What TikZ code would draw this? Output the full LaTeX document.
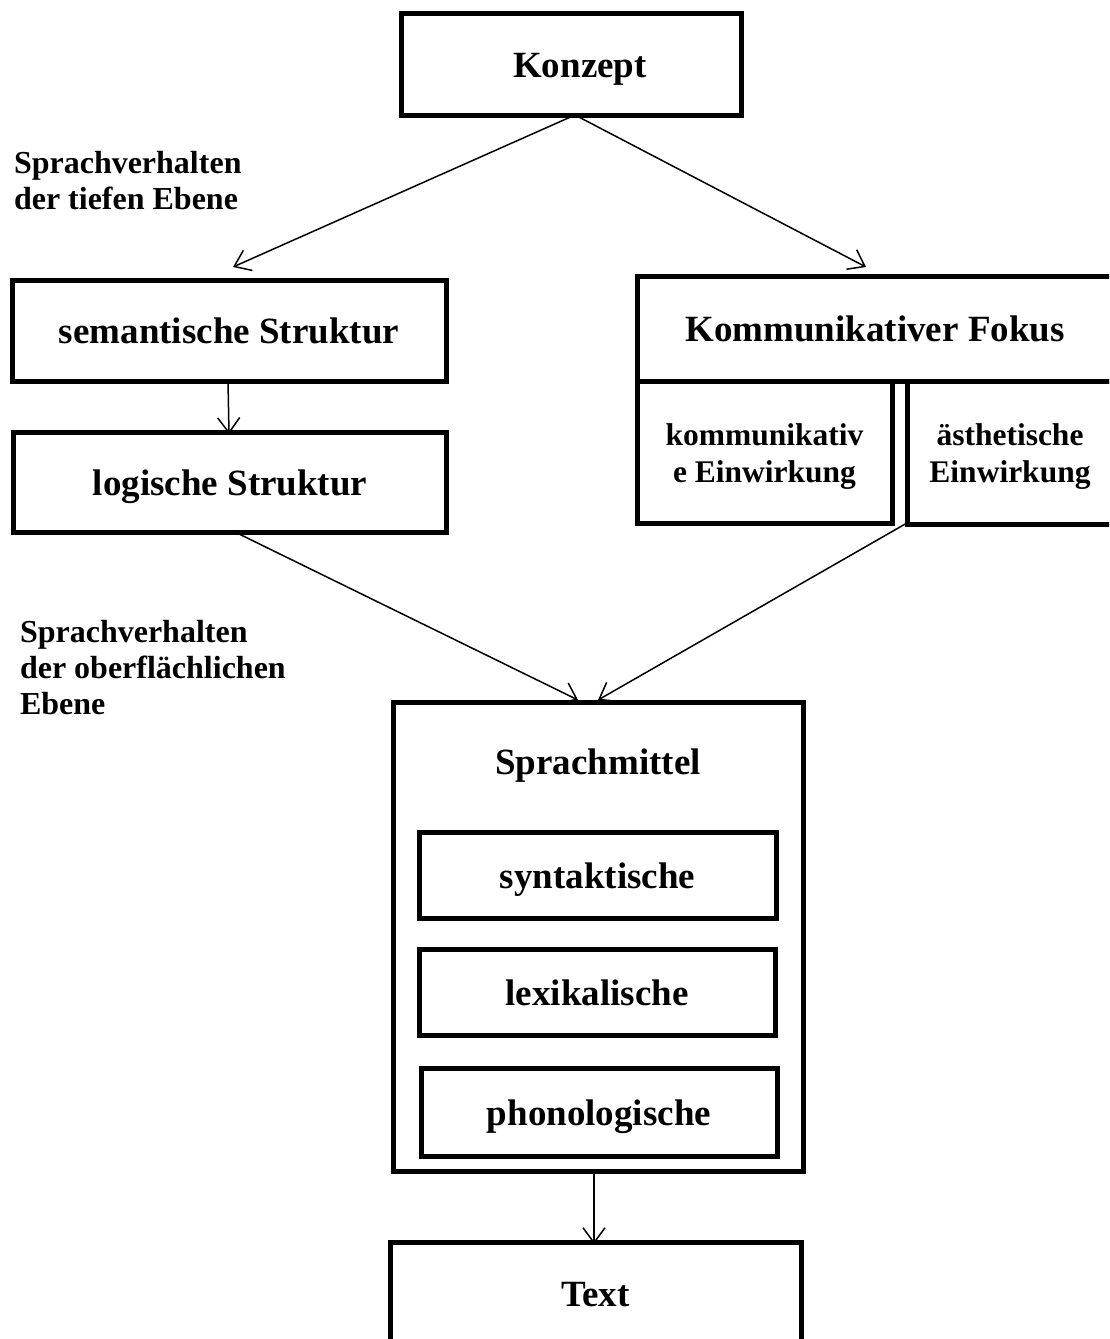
\documentclass[tikz,border=0pt]{standalone}
\usepackage{fontspec}
\setmainfont{Liberation Serif}
\usetikzlibrary{arrows.meta}
\newcommand{\twolines}[2]{\raisebox{7pt}[0pt][0pt]{\begin{tabular}[t]{@{}c@{}}#1\\#2\end{tabular}}}
\begin{document}
\begin{tikzpicture}[x=1pt,y=-1pt,
  frame/.style={draw, line width=5pt, rectangle, inner sep=0pt, outer sep=0pt},
  box/.style={frame, font=\fontsize{37}{42}\selectfont\bfseries,
    text height=30pt, text depth=3.6pt},
  smallbox/.style={frame, font=\fontsize{31.5}{37}\selectfont\bfseries},
  lbl/.style={inner sep=0pt, outer sep=0pt, anchor=west, align=left,
    font=\fontsize{32}{36}\selectfont\bfseries},
  conn/.style={line width=1.5pt, -{Straight Barb[length=15pt,width=22pt,line width=1.5pt]}}
]
\useasboundingbox (0,0) rectangle (1109,1339);
\clip (0,0) rectangle (1109,1339);
\fill[white] (0,0) rectangle (1109,1339);

\node[box, minimum width=340pt, minimum height=102pt] (konzept) at (571,64) {\hspace*{18pt}Konzept};
\node[box, minimum width=434pt, minimum height=101pt] (sem) at (229,330.5) {semantische Struktur};
\node[box, minimum width=433pt, minimum height=100pt] (log) at (230,482) {logische Struktur};
\node[box, minimum width=476pt, minimum height=105pt] (fokus) at (875,328.5) {Kommunikativer Fokus};
\node[smallbox, minimum width=255pt, minimum height=142pt] (komm) at (764.5,452) {\twolines{kommunikativ}{e Einwirkung}};
\node[smallbox, minimum width=206pt, minimum height=143pt] (aesth) at (1010,452.5) {\twolines{ästhetische}{Einwirkung}};

\node[frame, minimum width=410pt, minimum height=469pt] (mittel) at (598,936.5) {};
\node[inner sep=0pt, font=\fontsize{37}{42}\selectfont\bfseries, text height=30pt, text depth=3.6pt] (mitteltitle) at (598,761.5) {Sprachmittel};
\node[box, minimum width=357pt, minimum height=86pt] (syn) at (597.5,875) {syntaktische};
\node[box, minimum width=356pt, minimum height=86pt] (lex) at (597,992) {lexikalische};
\node[box, minimum width=356pt, minimum height=88pt] (phon) at (599,1112) {phonologische};
\node[box, minimum width=411pt, minimum height=103pt] (text) at (595.5,1293.5) {Text};

\node[lbl] (tief) at (14,181) {Sprachverhalten\\der tiefen Ebene};
\node[lbl] (ober) at (20,668) {Sprachverhalten\\der oberflächlichen\\Ebene};

\coordinate (t1) at (233,267);
\coordinate (t2) at (866,267);
\coordinate (t3) at (578,700);
\coordinate (t4) at (598,700);
\coordinate (s3) at (235,532);
\coordinate (s4) at (907,523);

\draw[conn] ([xshift=4pt]konzept.south) -- (t1);
\draw[conn] ([xshift=4pt]konzept.south) -- (t2);
\draw[conn] ([xshift=-1pt]sem.south) -- ([xshift=-1pt,yshift=-2pt]log.north);
\draw[conn] (s3) -- (t3);
\draw[conn] (s4) -- (t4);
\draw[conn] ([xshift=-4pt]mittel.south) -- ([xshift=-1.5pt,yshift=-2pt]text.north);
\end{tikzpicture}
\end{document}
